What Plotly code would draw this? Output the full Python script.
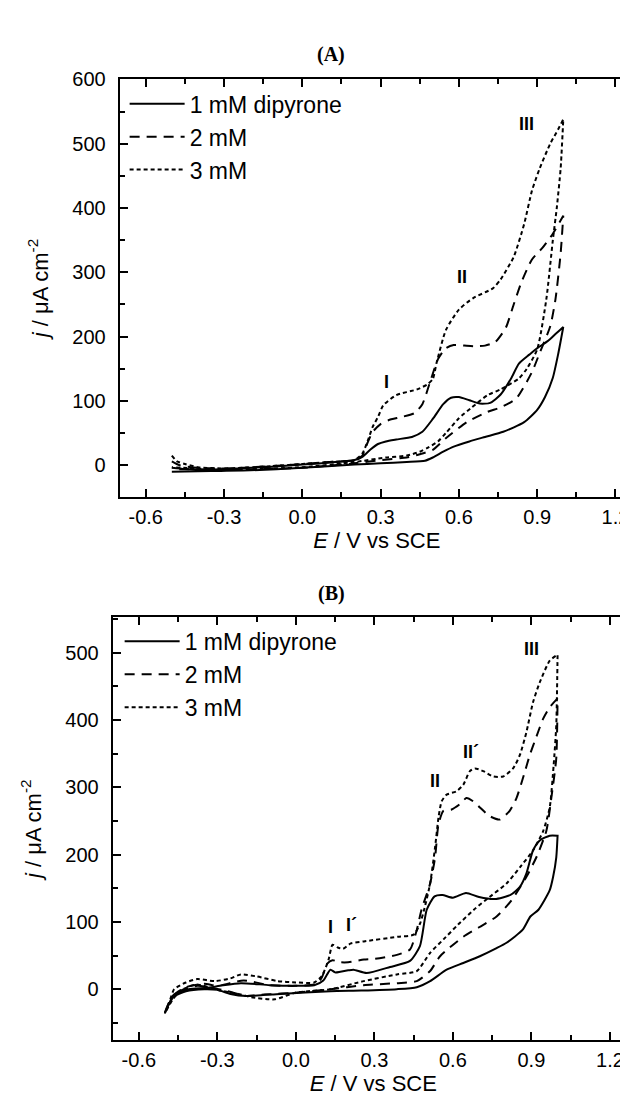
import plotly.graph_objects as go

# ---------------- Panel A data (E / V vs SCE, j / uA cm-2) ----------------
A_E_1_fwd = [-0.50,-0.45,-0.35,-0.25,-0.10,0.00,0.10,0.20,0.23,0.26,0.29,0.32,0.36,0.42,0.46,0.50,0.54,0.57,0.60,0.64,0.68,0.72,0.76,0.80,0.83,0.87,0.90,0.94,0.97,1.00]
A_j_1_fwd = [-4,-6,-7,-5,-2,1,4,8,13,24,33,37,40,44,52,72,95,105,106,101,96,97,110,135,158,172,182,193,204,215]
A_E_1_rev = [1.00,0.98,0.96,0.93,0.90,0.85,0.77,0.70,0.64,0.58,0.54,0.50,0.47,0.40,0.30,0.20,0.00,-0.20,-0.35,-0.50]
A_j_1_rev = [215,172,136,106,86,67,52,44,37,29,21,12,7,5,3,1,-4,-8,-9,-10]

A_E_2_fwd = [-0.50,-0.47,-0.40,-0.30,-0.10,0.00,0.10,0.20,0.23,0.25,0.27,0.30,0.33,0.38,0.43,0.46,0.49,0.52,0.55,0.58,0.62,0.66,0.70,0.74,0.78,0.81,0.84,0.88,0.92,0.96,1.00]
A_j_2_fwd = [6,0,-4,-5,-1,2,5,8,15,35,52,64,70,75,81,95,130,165,182,187,186,185,186,192,214,250,285,320,338,360,388]
A_E_2_rev = [1.00,0.99,0.97,0.95,0.91,0.88,0.82,0.76,0.71,0.63,0.55,0.50,0.45,0.40,0.30,0.20,0.00,-0.30,-0.50]
A_j_2_rev = [388,330,258,216,175,145,104,90,83,67,42,24,17,12,8,3,-4,-7,-6]

A_E_3_fwd = [-0.50,-0.48,-0.45,-0.40,-0.30,-0.10,0.00,0.10,0.20,0.23,0.25,0.27,0.29,0.31,0.36,0.44,0.48,0.50,0.515,0.55,0.60,0.655,0.73,0.76,0.81,0.85,0.88,0.91,0.95,0.98,1.00]
A_j_3_fwd = [15,6,2,-3,-5,-1,2,5,8,18,37,60,75,93,109,118,126,134,160,210,242,260,275,289,324,375,427,462,500,522,538]
A_E_3_rev = [1.00,0.99,0.975,0.96,0.935,0.90,0.86,0.83,0.76,0.71,0.65,0.60,0.55,0.52,0.48,0.45,0.40,0.32,0.20,0.00,-0.30,-0.50]
A_j_3_rev = [538,462,400,350,258,180,150,135,118,109,90,73,50,37,27,21,15,12,5,-3,-7,-3]

# ---------------- Panel B data ----------------
B_E_1_fwd = [-0.50,-0.48,-0.465,-0.41,-0.34,-0.29,-0.21,-0.10,0.00,0.07,0.105,0.132,0.15,0.17,0.20,0.22,0.27,0.36,0.436,0.474,0.50,0.53,0.56,0.60,0.65,0.70,0.76,0.82,0.856,0.881,0.906,0.932,0.97,1.00]
B_j_1_fwd = [-35,-18,-8,0,2,5,9,6,5,6,13,29,25,26,28,29,24,33,42,64,118,138,140,136,143,137,134,140,152,172,206,221,228,228]
B_E_1_rev = [1.00,0.995,0.983,0.97,0.927,0.896,0.866,0.805,0.767,0.703,0.64,0.576,0.513,0.462,0.386,0.25,0.132,-0.06,-0.19,-0.25,-0.30,-0.35,-0.42,-0.47,-0.50]
B_j_1_rev = [228,196,167,147,118,108,88,69,61,49,39,29,12,3,0,-2,-3,-7,-10,-7,-1,0,-3,-12,-35]

B_E_2_fwd = [-0.50,-0.47,-0.42,-0.35,-0.30,-0.20,-0.10,0.00,0.08,0.10,0.12,0.14,0.17,0.20,0.26,0.30,0.386,0.436,0.462,0.48,0.513,0.532,0.545,0.564,0.595,0.627,0.652,0.678,0.703,0.741,0.779,0.817,0.843,0.868,0.894,0.919,0.945,0.97,1.00]
B_j_2_fwd = [-33,-10,3,8,5,13,6,5,8,18,38,43,40,40,44,45,51,59,88,118,157,196,245,265,267,275,284,279,270,257,252,265,284,314,348,375,402,419,432]
B_E_2_rev = [1.00,0.995,0.976,0.957,0.919,0.881,0.82,0.767,0.70,0.64,0.551,0.513,0.462,0.386,0.259,0.132,0.005,-0.12,-0.19,-0.27,-0.376,-0.44,-0.47,-0.50]
B_j_2_rev = [432,343,284,235,196,167,130,108,92,78,49,27,12,9,6,0,-5,-8,-10,-2,5,-2,-12,-33]

B_E_3_fwd = [-0.50,-0.48,-0.465,-0.42,-0.376,-0.31,-0.25,-0.21,-0.15,-0.07,0.00,0.07,0.10,0.125,0.14,0.16,0.18,0.21,0.26,0.39,0.45,0.475,0.49,0.513,0.532,0.545,0.557,0.576,0.614,0.64,0.665,0.684,0.716,0.754,0.792,0.83,0.856,0.881,0.906,0.932,0.97,1.00]
B_j_3_fwd = [-35,-15,0,10,15,12,16,22,19,12,10,10,20,44,66,62,60,68,71,78,81,98,118,157,211,255,279,289,294,304,324,328,324,316,316,328,348,382,426,456,488,497]
B_E_3_rev = [1.00,0.995,0.985,0.97,0.945,0.906,0.856,0.805,0.74,0.68,0.62,0.564,0.513,0.462,0.386,0.259,0.132,0.00,-0.08,-0.17,-0.22,-0.29,-0.38,-0.44,-0.47,-0.50]
B_j_3_rev = [497,392,333,270,235,206,181,157,137,118,96,74,54,27,22,12,0,-5,-15,-12,-7,-2,7,-2,-15,-35]

series_names = ["1 mM dipyrone", "2 mM", "3 mM"]

x_tickvals = [-0.6, -0.3, 0.0, 0.3, 0.6, 0.9, 1.2]
x_ticktext = ["-0.6", "-0.3", "0.0", "0.3", "0.6", "0.9", "1.2"]
yA_tickvals = [0, 100, 200, 300, 400, 500, 600]
yB_tickvals = [0, 100, 200, 300, 400, 500]

peak_A_text = ["I", "II", "III"]
peak_A_E = [0.324, 0.61, 0.86]
peak_A_j = [129, 293, 530]
peak_B_text = ["I", "I\u00b4", "II", "II\u00b4", "III"]
peak_B_E = [0.132, 0.214, 0.532, 0.671, 0.90]
peak_B_j = [93, 96, 309, 353, 505]

W, H = 628, 1098
FONT = "Liberation Sans, Arial, sans-serif"
SERIF = "Liberation Serif, Times New Roman, serif"
dashes = ["solid", "10px,7px", "4px,3px"]

fig = go.Figure()

panelA = [(A_E_1_fwd, A_j_1_fwd, A_E_1_rev, A_j_1_rev),
          (A_E_2_fwd, A_j_2_fwd, A_E_2_rev, A_j_2_rev),
          (A_E_3_fwd, A_j_3_fwd, A_E_3_rev, A_j_3_rev)]
panelB = [(B_E_1_fwd, B_j_1_fwd, B_E_1_rev, B_j_1_rev),
          (B_E_2_fwd, B_j_2_fwd, B_E_2_rev, B_j_2_rev),
          (B_E_3_fwd, B_j_3_fwd, B_E_3_rev, B_j_3_rev)]

for panel, xa, ya, lg in [(panelA, "x", "y", "legend"), (panelB, "x2", "y2", "legend2")]:
    for (Ef, jf, Er, jr), name, dash in zip(panel, series_names, dashes):
        fig.add_trace(go.Scatter(
            x=Ef + Er, y=jf + jr, mode="lines", name=name,
            line=dict(color="black", width=2, dash=dash, shape="spline", smoothing=0.6),
            xaxis=xa, yaxis=ya, legend=lg, hoverinfo="skip"))

def px_x(p):
    return p / W

def px_y(p):
    return 1 - p / H

axis_common = dict(showline=True, linewidth=2, linecolor="black", mirror="ticks",
                   ticks="inside", ticklen=8, tickwidth=2, tickcolor="black",
                   showgrid=False, zeroline=False,
                   tickfont=dict(family=FONT, size=20, color="black"))

xcommon = dict(axis_common, tickmode="array", tickvals=x_tickvals, ticktext=x_ticktext,
               ticklabelstandoff=1,
               minor=dict(tickmode="linear", tick0=0, dtick=0.15, ticks="inside",
                          ticklen=5, tickwidth=2, tickcolor="black"),
               title=dict(text="<i>E</i> / V vs SCE",
                          font=dict(family=FONT, size=22, color="black"), standoff=3))

def ycommon(vals):
    return dict(axis_common, tickmode="array", tickvals=vals,
                ticktext=[str(v) for v in vals], ticklabelstandoff=8,
                minor=dict(tickmode="linear", tick0=0, dtick=50, ticks="inside",
                           ticklen=5, tickwidth=2, tickcolor="black"),
                title=dict(text="<i>j</i> / \u03bcA cm<sup>-2</sup>",
                           font=dict(family=FONT, size=22, color="black"), standoff=18))

fig.update_layout(
    width=W, height=H, margin=dict(l=0, r=0, t=0, b=0),
    paper_bgcolor="white", plot_bgcolor="white",
    xaxis=dict(xcommon, domain=[px_x(112), 1.0], range=[-0.7, 1.271], anchor="y"),
    yaxis=dict(ycommon(yA_tickvals), domain=[px_y(482.7), px_y(60.7)], range=[-49.2, 600.5], anchor="x"),
    xaxis2=dict(xcommon, domain=[px_x(105), 1.0], range=[-0.7, 1.292], anchor="y2"),
    yaxis2=dict(ycommon(yB_tickvals), domain=[px_y(1031.7), px_y(604)], range=[-76, 553], anchor="x2"),
    legend=dict(x=px_x(117), y=px_y(64), xanchor="left", yanchor="top",
                bgcolor="rgba(0,0,0,0)", font=dict(family=FONT, size=23, color="black"),
                itemwidth=55, tracegroupgap=0),
    legend2=dict(x=px_x(112), y=px_y(607), xanchor="left", yanchor="top",
                 bgcolor="rgba(0,0,0,0)", font=dict(family=FONT, size=23, color="black"),
                 itemwidth=55, tracegroupgap=0),
    showlegend=True,
)

annotations = [
    dict(text="<b>(A)</b>", x=px_x(324), y=px_y(22), xref="paper", yref="paper",
         showarrow=False, font=dict(family=SERIF, size=20, color="black")),
    dict(text="<b>(B)</b>", x=px_x(325), y=px_y(580), xref="paper", yref="paper",
         showarrow=False, font=dict(family=SERIF, size=20, color="black")),
]
for t, e, j in zip(peak_A_text, peak_A_E, peak_A_j):
    annotations.append(dict(text="<b>%s</b>" % t, x=e, y=j, xref="x", yref="y", showarrow=False,
                            font=dict(family=FONT, size=18, color="black")))
for t, e, j in zip(peak_B_text, peak_B_E, peak_B_j):
    annotations.append(dict(text="<b>%s</b>" % t, x=e, y=j, xref="x2", yref="y2", showarrow=False,
                            font=dict(family=FONT, size=18, color="black")))
fig.update_layout(annotations=annotations)

fig.write_html("out.html")
